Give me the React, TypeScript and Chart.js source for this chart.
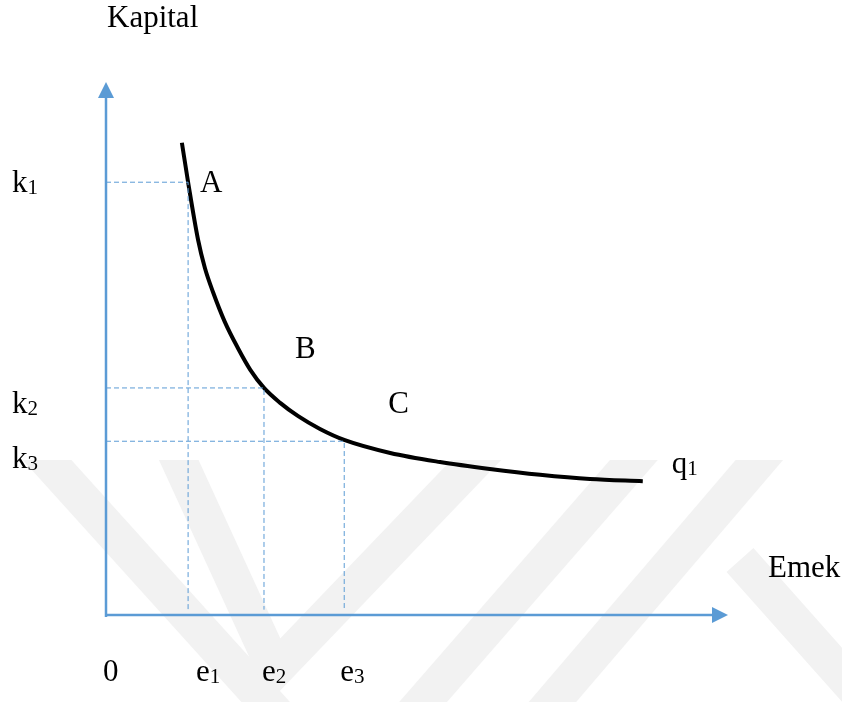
import React, { useEffect, useRef } from "react";
import { Chart, registerables } from "chart.js";

Chart.register(...registerables);

// ---- data (axis units 0..10) ----
const CURVE_L = [1.22, 1.32, 1.48, 1.59, 1.72, 1.91, 2.12, 2.32, 2.54, 2.8, 3.09, 3.44, 3.84, 4.57, 5.37, 6.17, 6.98, 7.78, 8.63];
const CURVE_K = [8.86, 8.12, 7.04, 6.51, 6.06, 5.5, 5.01, 4.6, 4.26, 3.98, 3.73, 3.49, 3.28, 3.04, 2.87, 2.74, 2.63, 2.55, 2.51];

const POINT_NAMES = ["A", "B", "C"];
const POINT_E = [1.32, 2.54, 3.83];
const POINT_K = [8.12, 4.26, 3.26];

const E_TICKS = ["e", "e", "e"];
const E_SUBS = ["1", "2", "3"];
const K_TICKS = ["k", "k", "k"];
const K_SUBS = ["1", "2", "3"];

const CURVE_NAME = "q";
const CURVE_SUB = "1";
const Y_TITLE = "Kapital";
const X_TITLE = "Emek";
const ORIGIN_LABEL = "0";

// ---- styling / layout ----
const SERIF = '"Liberation Serif", "Times New Roman", serif';
const BLUE = "#5B9BD5";
const MAIN_SIZE = 31;
const SUB_SIZE = 21;

const drawText = (ctx: CanvasRenderingContext2D, main: string, sub: string | null, x: number, y: number) => {
  ctx.font = `${MAIN_SIZE}px ${SERIF}`;
  ctx.fillText(main, x, y);
  if (sub) {
    const w = ctx.measureText(main).width;
    ctx.font = `${SUB_SIZE}px ${SERIF}`;
    ctx.fillText(sub, x + w, y + 2);
  }
};

const watermarkPlugin = {
  id: "watermark",
  beforeDraw(chart: any) {
    const ctx = chart.ctx as CanvasRenderingContext2D;
    ctx.save();
    ctx.fillStyle = "#ffffff";
    ctx.fillRect(0, 0, chart.width, chart.height);
    ctx.beginPath();
    ctx.rect(0, 460, chart.width, chart.height - 460);
    ctx.clip();
    ctx.strokeStyle = "#f2f2f2";
    ctx.lineWidth = 36;
    ctx.lineCap = "butt";
    ctx.lineJoin = "miter";
    const seg = (pts: number[][]) => {
      ctx.beginPath();
      ctx.moveTo(pts[0][0], pts[0][1]);
      for (let i = 1; i < pts.length; i++) ctx.lineTo(pts[i][0], pts[i][1]);
      ctx.stroke();
    };
    seg([[20, 430], [300, 740]]);
    seg([[165, 430], [275, 670], [505, 430]]);
    seg([[660, 430], [390, 740]]);
    seg([[785, 430], [520, 740]]);
    seg([[740, 560], [900, 740]]);
    ctx.restore();
  },
};

const overlayPlugin = {
  id: "overlay",
  beforeDatasetsDraw(chart: any) {
    const ctx = chart.ctx as CanvasRenderingContext2D;
    const xs = chart.scales.x;
    const ys = chart.scales.y;
    const x0 = xs.getPixelForValue(0);
    const y0 = ys.getPixelForValue(0);
    const top = chart.chartArea.top;
    const right = chart.chartArea.right;
    ctx.save();
    ctx.strokeStyle = BLUE;
    ctx.fillStyle = BLUE;
    ctx.lineWidth = 2.5;
    // y axis
    ctx.beginPath();
    ctx.moveTo(x0, y0 + 2);
    ctx.lineTo(x0, top + 14);
    ctx.stroke();
    ctx.beginPath();
    ctx.moveTo(x0, top);
    ctx.lineTo(x0 - 8, top + 16);
    ctx.lineTo(x0 + 8, top + 16);
    ctx.closePath();
    ctx.fill();
    // x axis
    ctx.beginPath();
    ctx.moveTo(x0 - 1, y0);
    ctx.lineTo(right - 14, y0);
    ctx.stroke();
    ctx.beginPath();
    ctx.moveTo(right, y0);
    ctx.lineTo(right - 16, y0 - 8);
    ctx.lineTo(right - 16, y0 + 8);
    ctx.closePath();
    ctx.fill();
    ctx.restore();
  },
  afterDatasetsDraw(chart: any) {
    const ctx = chart.ctx as CanvasRenderingContext2D;
    const xs = chart.scales.x;
    const ys = chart.scales.y;
    ctx.save();
    ctx.fillStyle = "#000000";
    ctx.textBaseline = "alphabetic";
    ctx.textAlign = "left";
    // titles
    drawText(ctx, Y_TITLE, null, 107, 27);
    drawText(ctx, X_TITLE, null, 768, 577);
    drawText(ctx, ORIGIN_LABEL, null, 103, 681);
    // k ticks
    const kOffsets = [10, 25, 27];
    K_TICKS.forEach((t, i) => {
      drawText(ctx, t, K_SUBS[i], 12, ys.getPixelForValue(POINT_K[i]) + kOffsets[i]);
    });
    // e ticks
    const eOffsets = [8, -2, -4];
    E_TICKS.forEach((t, i) => {
      drawText(ctx, t, E_SUBS[i], xs.getPixelForValue(POINT_E[i]) + eOffsets[i], 681);
    });
    // point names
    const pOffsets = [
      [12, 10],
      [31, -30],
      [44, -28],
    ];
    POINT_NAMES.forEach((n, i) => {
      drawText(
        ctx,
        n,
        null,
        xs.getPixelForValue(POINT_E[i]) + pOffsets[i][0],
        ys.getPixelForValue(POINT_K[i]) + pOffsets[i][1]
      );
    });
    // curve name
    const last = CURVE_L.length - 1;
    drawText(ctx, CURVE_NAME, CURVE_SUB, xs.getPixelForValue(CURVE_L[last]) + 29, ys.getPixelForValue(CURVE_K[last]) - 8);
    ctx.restore();
  },
};

export default function App() {
  const ref = useRef<HTMLCanvasElement | null>(null);
  useEffect(() => {
    if (!ref.current) return;
    const guideSets = POINT_NAMES.map((n, i) => ({
      label: `guide ${n}`,
      data: [
        { x: 0, y: POINT_K[i] },
        { x: POINT_E[i], y: POINT_K[i] },
        { x: POINT_E[i], y: 0.1 },
      ],
      borderColor: BLUE,
      borderWidth: 1,
      borderDash: [5, 3],
      pointRadius: 0,
      tension: 0,
      fill: false,
    }));
    const chart = new Chart(ref.current, {
      type: "line",
      data: {
        datasets: [
          ...guideSets,
          {
            label: CURVE_NAME + CURVE_SUB,
            data: CURVE_L.map((l, i) => ({ x: l, y: CURVE_K[i] })),
            borderColor: "#000000",
            borderWidth: 4,
            pointRadius: 0,
            cubicInterpolationMode: "monotone",
            fill: false,
          },
        ],
      } as any,
      options: {
        animation: false,
        responsive: false,
        maintainAspectRatio: false,
        layout: { padding: { left: 106, right: 114, top: 82, bottom: 87 } },
        scales: {
          x: { type: "linear", min: 0, max: 10, display: false },
          y: { type: "linear", min: 0, max: 10, display: false },
        },
        plugins: {
          legend: { display: false },
          tooltip: { enabled: false },
          title: { display: false },
        },
      },
      plugins: [watermarkPlugin, overlayPlugin],
    });
    return () => chart.destroy();
  }, []);
  return (
    <div style={{ position: "absolute", left: 0, top: 0, width: 842, height: 702 }}>
      <canvas ref={ref} width={842} height={702} />
    </div>
  );
}
